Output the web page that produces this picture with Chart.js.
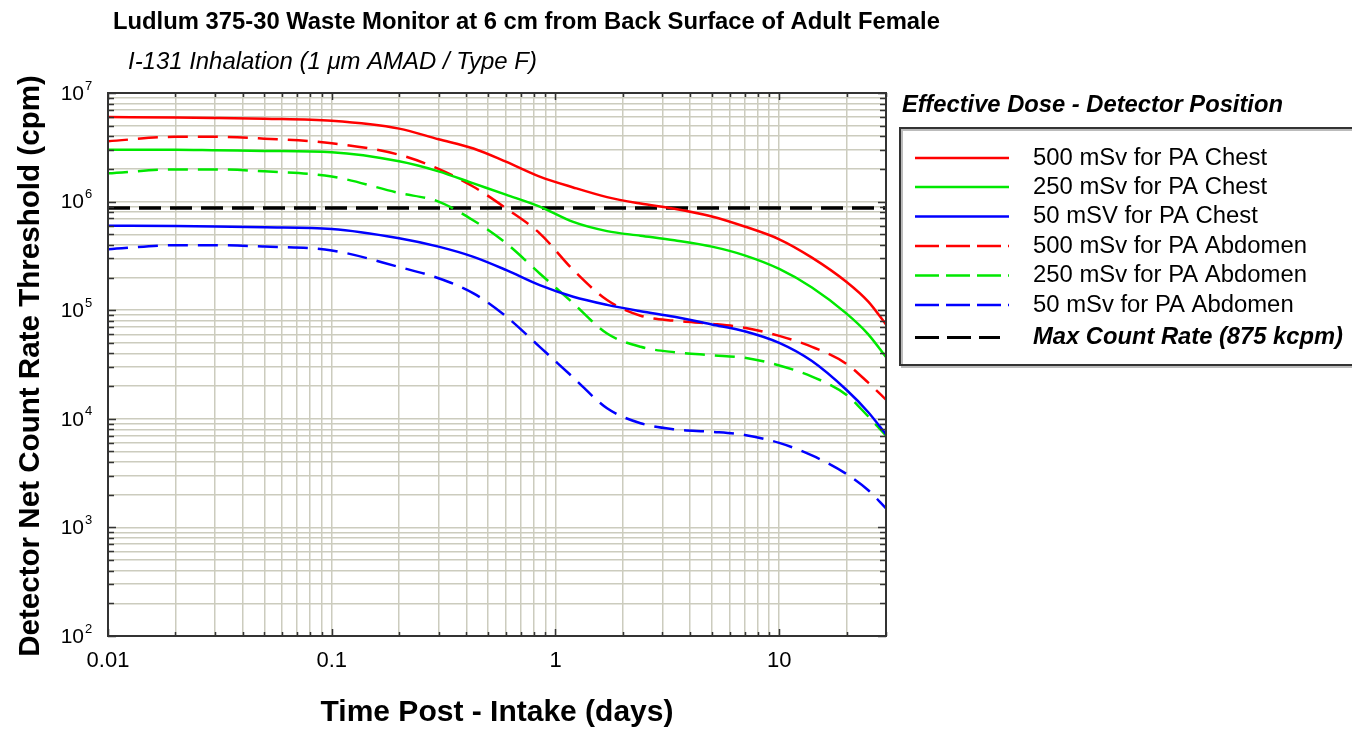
<!DOCTYPE html>
<html>
<head>
<meta charset="utf-8">
<script src="https://cdn.jsdelivr.net/npm/chart.js@4/dist/chart.umd.min.js"></script>
<style>
html,body{margin:0;padding:0;background:#fff;overflow:hidden;}
canvas{display:block;}
</style>
</head>
<body>
<canvas id="c" width="1352" height="730"></canvas>
<script>
// ---------- data ----------
const timeDays = [0.01,0.02,0.03,0.05,0.1,0.2,0.3,0.43,0.6,0.85,1.2,1.7,2.4,3.4,5,7,10,14,20,25,30];
const chest500 = [6.0e6,5.95e6,5.9e6,5.8e6,5.55e6,4.7e6,3.75e6,3.08e6,2.33e6,1.7e6,1.35e6,1.1e6,9.6e5,8.6e5,7.3e5,5.9e5,4.5e5,3.05e5,1.82e5,1.2e5,7.4e4];
const chest250 = [3.0e6,3.0e6,2.97e6,2.93e6,2.85e6,2.35e6,1.9e6,1.47e6,1.16e6,9.0e5,6.5e5,5.35e5,4.85e5,4.4e5,3.85e5,3.2e5,2.4e5,1.62e5,9.3e4,6.0e4,3.7e4];
const chest50  = [6.0e5,5.95e5,5.9e5,5.8e5,5.6e5,4.6e5,3.85e5,3.1e5,2.35e5,1.7e5,1.33e5,1.12e5,9.8e4,8.7e4,7.4e4,6.4e4,5.0e4,3.4e4,1.84e4,1.15e4,7.2e3];
const abd500   = [3.6e6,3.95e6,3.95e6,3.8e6,3.45e6,2.7e6,2.0e6,1.37e6,8.7e5,5.1e5,2.35e5,1.24e5,8.9e4,8.0e4,7.5e4,6.9e4,5.8e4,4.6e4,3.2e4,2.15e4,1.5e4];
const abd250   = [1.82e6,1.98e6,1.98e6,1.9e6,1.7e6,1.2e6,1.0e6,6.7e5,4.15e5,2.18e5,1.16e5,6.1e4,4.6e4,4.1e4,3.85e4,3.65e4,3.1e4,2.45e4,1.66e4,1.05e4,7.0e3];
const abd50    = [3.65e5,3.97e5,3.97e5,3.85e5,3.55e5,2.5e5,1.97e5,1.43e5,8.8e4,4.6e4,2.4e4,1.25e4,9.1e3,8.0e3,7.6e3,7.1e3,6.0e3,4.6e3,3.1e3,2.2e3,1.5e3];
const maxCountRate = 875000;
const maxRateTimes = [0.01, 30];
const seriesLabels = ['500 mSv for PA Chest','250 mSv for PA Chest','50 mSV for PA Chest',
  '500 mSv for PA Abdomen','250 mSv for PA Abdomen','50 mSv for PA Abdomen','Max Count Rate (875 kcpm)'];
const xTickLabels = [0.01, 0.1, 1, 10];
const yTickExponents = [2,3,4,5,6,7];
const chartTitle = 'Ludlum 375-30 Waste Monitor at 6 cm from Back Surface of Adult Female';
const chartSubtitle = 'I-131 Inhalation (1 \u03BCm AMAD / Type F)';
const xAxisTitle = 'Time Post - Intake (days)';
const yAxisTitle = 'Detector Net Count Rate Threshold (cpm)';
const legendTitle = 'Effective Dose - Detector Position';

// ---------- styling ----------
const RED='#ff0000', GREEN='#00e800', BLUE='#0000ff';
const FONT='"Liberation Sans", Arial, sans-serif';
const GRID='rgb(204,204,190)';

function pts(arr){ return timeDays.map((t,i)=>({x:t,y:arr[i]})); }
function ds(label, arr, color, dashed){
  return {label, data:pts(arr), borderColor:color, borderWidth:2.5, pointRadius:0,
    borderDash: dashed?[20,10]:[], cubicInterpolationMode:'monotone', fill:false};
}
const datasets = [
  ds(seriesLabels[0], chest500, RED, false),
  ds(seriesLabels[1], chest250, GREEN, false),
  ds(seriesLabels[2], chest50, BLUE, false),
  ds(seriesLabels[3], abd500, RED, true),
  ds(seriesLabels[4], abd250, GREEN, true),
  ds(seriesLabels[5], abd50, BLUE, true),
  {label:seriesLabels[6], data:maxRateTimes.map(t=>({x:t,y:maxCountRate})), borderColor:'#000',
   borderWidth:3.5, pointRadius:0, borderDash:[22,9], fill:false}
];

function logTicks(min,max){
  const out=[];
  for(let e=Math.floor(Math.log10(min)); e<=Math.ceil(Math.log10(max)); e++){
    for(let m=1;m<=9;m++){
      const v=parseFloat((m*Math.pow(10,e)).toPrecision(4));
      if(v>=min*0.9999 && v<=max*1.0001) out.push({value:v});
    }
  }
  return out;
}
function isMajor(v){ const l=Math.log10(v); return Math.abs(l-Math.round(l))<1e-9; }
function fitFont(ctx, text, style, target){
  ctx.font = style+' 20px '+FONT;
  const w = ctx.measureText(text).width;
  const s = 20*target/w;
  ctx.font = style+' '+s.toFixed(2)+'px '+FONT;
  return s;
}

const decor = {
  id:'decor',
  afterDraw(chart){
    const ctx=chart.ctx, a=chart.chartArea, xs=chart.scales.x, ys=chart.scales.y;
    ctx.save();
    // frame
    ctx.strokeStyle='#333'; ctx.lineWidth=2;
    ctx.strokeRect(a.left,a.top,a.right-a.left,a.bottom-a.top);
    // inward ticks
    ctx.lineWidth=1.5; ctx.strokeStyle='#333';
    ctx.beginPath();
    xs.ticks.forEach(t=>{
      const p=Math.round(xs.getPixelForValue(t.value))+0.5, L=isMajor(t.value)?7:4;
      ctx.moveTo(p,a.top); ctx.lineTo(p,a.top+L);
      ctx.moveTo(p,a.bottom); ctx.lineTo(p,a.bottom-L);
    });
    ys.ticks.forEach(t=>{
      const p=Math.round(ys.getPixelForValue(t.value))+0.5, L=isMajor(t.value)?8:6;
      ctx.moveTo(a.left,p); ctx.lineTo(a.left+L,p);
      ctx.moveTo(a.right,p); ctx.lineTo(a.right-L,p);
    });
    ctx.stroke();
    // x tick labels
    ctx.fillStyle='#000'; ctx.textBaseline='middle'; ctx.textAlign='center';
    ctx.font='22px '+FONT;
    xTickLabels.forEach(v=>{ ctx.fillText(String(v), xs.getPixelForValue(v), 661); });
    // y tick labels with superscript
    yTickExponents.forEach(e=>{
      const p=ys.getPixelForValue(Math.pow(10,e));
      ctx.textAlign='right'; ctx.font='21px '+FONT;
      ctx.fillText('10', 84, p+1);
      ctx.textAlign='left'; ctx.font='13px '+FONT;
      ctx.fillText(String(e), 85, p-7);
    });
    // titles
    ctx.textAlign='left';
    fitFont(ctx, chartTitle, 'bold', 827);
    ctx.fillText(chartTitle, 113, 22);
    fitFont(ctx, chartSubtitle, 'italic', 409);
    ctx.fillText(chartSubtitle, 128, 62);
    ctx.textAlign='center';
    fitFont(ctx, xAxisTitle, 'bold', 353);
    ctx.fillText(xAxisTitle, 497, 713);
    ctx.save();
    ctx.translate(31, 366); ctx.rotate(-Math.PI/2);
    fitFont(ctx, yAxisTitle, 'bold', 582);
    ctx.fillText(yAxisTitle, 0, 0);
    ctx.restore();
    // legend
    ctx.textAlign='left';
    fitFont(ctx, legendTitle, 'bold italic', 381);
    ctx.fillText(legendTitle, 902, 105);
    ctx.strokeStyle='#bbb'; ctx.lineWidth=2;
    ctx.strokeRect(902, 130, 470, 237);
    ctx.strokeStyle='#333'; ctx.lineWidth=2;
    ctx.strokeRect(900, 128, 470, 237);
    const rows=[158,187,216.5,246,275.5,305,337.5];
    const itemSize = fitFont(ctx, seriesLabels[3], '', 274);
    chart.data.datasets.forEach((d,i)=>{
      const y=rows[i];
      const dashed = d.borderDash && d.borderDash.length>0;
      ctx.save();
      ctx.strokeStyle=d.borderColor; ctx.lineWidth=Math.min(d.borderWidth,3);
      ctx.setLineDash(dashed ? (i===6?[24,8]:[24,7]) : []);
      ctx.beginPath(); ctx.moveTo(915,y); ctx.lineTo(i===6?1000:1009,y); ctx.stroke();
      ctx.restore();
      ctx.fillStyle='#000';
      if(i===6){ fitFont(ctx, d.label, 'bold italic', 310); }
      else { ctx.font=itemSize.toFixed(2)+'px '+FONT; }
      ctx.fillText(d.label, 1033, y);
    });
    ctx.restore();
  }
};

new Chart(document.getElementById('c'), {
  type:'line',
  data:{datasets},
  options:{
    responsive:false, animation:false, devicePixelRatio:1,
    layout:{padding:{left:108, top:93, right:1352-886, bottom:730-636}},
    plugins:{legend:{display:false}, title:{display:false}, tooltip:{enabled:false}},
    scales:{
      x:{type:'logarithmic', min:0.01, max:30,
         afterBuildTicks:s=>{ s.ticks=logTicks(0.01,30); },
         afterFit:s=>{ s.height=0; },
         ticks:{display:false}, border:{display:false},
         grid:{color:GRID, lineWidth:1.5, drawTicks:false}},
      y:{type:'logarithmic', min:100, max:1e7,
         afterBuildTicks:s=>{ s.ticks=logTicks(100,1e7); },
         afterFit:s=>{ s.width=0; },
         ticks:{display:false}, border:{display:false},
         grid:{color:GRID, lineWidth:1.5, drawTicks:false}}
    }
  },
  plugins:[decor]
});
</script>
</body>
</html>
